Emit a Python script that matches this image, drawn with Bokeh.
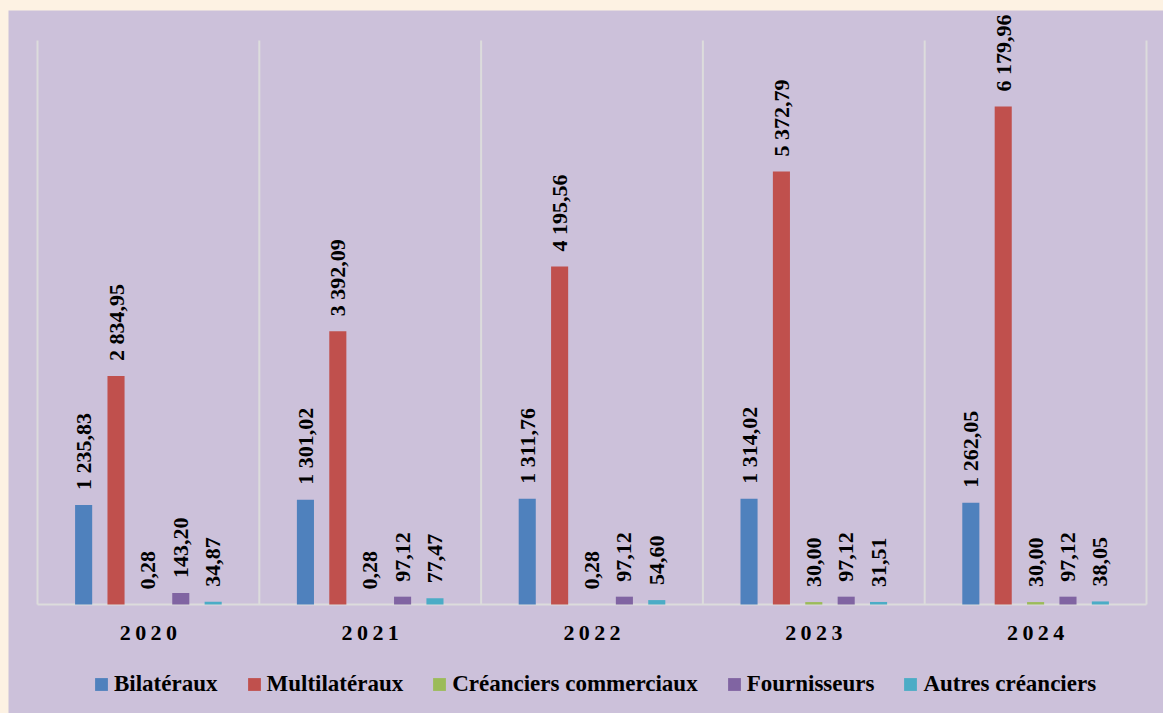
from bokeh.plotting import figure
from bokeh.models import ColumnDataSource, Legend, LegendItem, Range1d
from bokeh.transform import dodge
from bokeh.core.properties import value
from bokeh.embed import file_html
from bokeh.resources import INLINE
import math

years = ["2020", "2021", "2022", "2023", "2024"]
series_names = ["Bilatéraux", "Multilatéraux", "Créanciers commerciaux", "Fournisseurs", "Autres créanciers"]
bilateraux = [1235.83, 1301.02, 1311.76, 1314.02, 1262.05]
multilateraux = [2834.95, 3392.09, 4195.56, 5372.79, 6179.96]
commerciaux = [0.28, 0.28, 0.28, 30.00, 30.00]
fournisseurs = [143.20, 97.12, 97.12, 97.12, 97.12]
autres = [34.87, 77.47, 54.60, 31.51, 38.05]
colors = ["#4f81bd", "#c0504d", "#9bbb59", "#8064a2", "#4bacc6"]
y_max = 7000

BG = "#ccc1da"
GRID = "#dcdcdc"
FONT = "Liberation Serif"

# layout (pixels inside the figure)
W, H = 1155, 703
PLOT_L, PLOT_R = 29, 1138     # left / right edge of the plotting area
PLOT_T, PLOT_B = 30, 594      # top of separators / baseline
n = len(years)
ux = (PLOT_R - PLOT_L) / n            # px per category
uy = (PLOT_B - PLOT_T) / y_max        # px per unit
x_start = -PLOT_L / ux
x_end = n + (W - PLOT_R) / ux
y_start = -(H - PLOT_B) / uy
y_end = PLOT_B / uy

def fr(v):
    return f"{v:,.2f}".replace(",", "\u00a0").replace(".", ",")

p = figure(width=W, height=H, output_backend="svg", toolbar_location=None,
           x_range=Range1d(x_start, x_end), y_range=Range1d(y_start, y_end),
           min_border=0)
p.background_fill_color = BG
p.border_fill_color = BG
p.outline_line_color = None
p.axis.visible = False
p.grid.visible = False

# category separators and baseline
bounds = list(range(n + 1))
p.segment(x0=bounds, y0=[0] * len(bounds), x1=bounds, y1=[y_max] * len(bounds),
          line_color=GRID, line_width=2)
p.segment(x0=[0], y0=[0], x1=[n], y1=[0], line_color=GRID, line_width=2)

# category labels
centers = [i + 0.5 for i in range(n)]
p.text(x=centers, y=[0] * n, text=["\u2009".join(y) for y in years],
       text_align="center", text_baseline="middle", y_offset=28,
       text_font=value(FONT), text_font_style="bold", text_font_size="22px",
       text_color="#000000")

all_series = [bilateraux, multilateraux, commerciaux, fournisseurs, autres]
step = 0.146
bw = 0.077
items = []
for k, (name, vals, col) in enumerate(zip(series_names, all_series, colors)):
    src = ColumnDataSource(dict(x=centers, top=vals, lab=[fr(v) for v in vals]))
    off = (k - 2) * step
    r = p.vbar(x=dodge("x", off, range=p.x_range), top="top", width=bw, source=src,
               fill_color=col, line_color=None)
    p.text(x=dodge("x", off, range=p.x_range), y="top", text="lab", source=src,
           angle=math.pi / 2, text_align="left", text_baseline="middle",
           y_offset=-15, text_font=value(FONT), text_font_style="bold",
           text_font_size="22px", text_color="#000000")
    items.append(LegendItem(label=name, renderers=[r]))

legend = Legend(items=items, orientation="horizontal", location=(85, 16),
                background_fill_alpha=0, border_line_color=None,
                label_text_font=FONT, label_text_font_style="bold",
                label_text_font_size="23px", label_text_color="#000000",
                glyph_width=16, glyph_height=16, label_standoff=5, spacing=28,
                padding=0, margin=0)
p.add_layout(legend, "center")

html = file_html(p, INLINE)
html = html.replace("</head>",
                    "<style>html,body{background:#fdf2e3 !important;overflow:hidden;}"
                    "body{margin:10px 0 0 8px !important;}</style></head>", 1)
open("out.html", "w").write(html)
